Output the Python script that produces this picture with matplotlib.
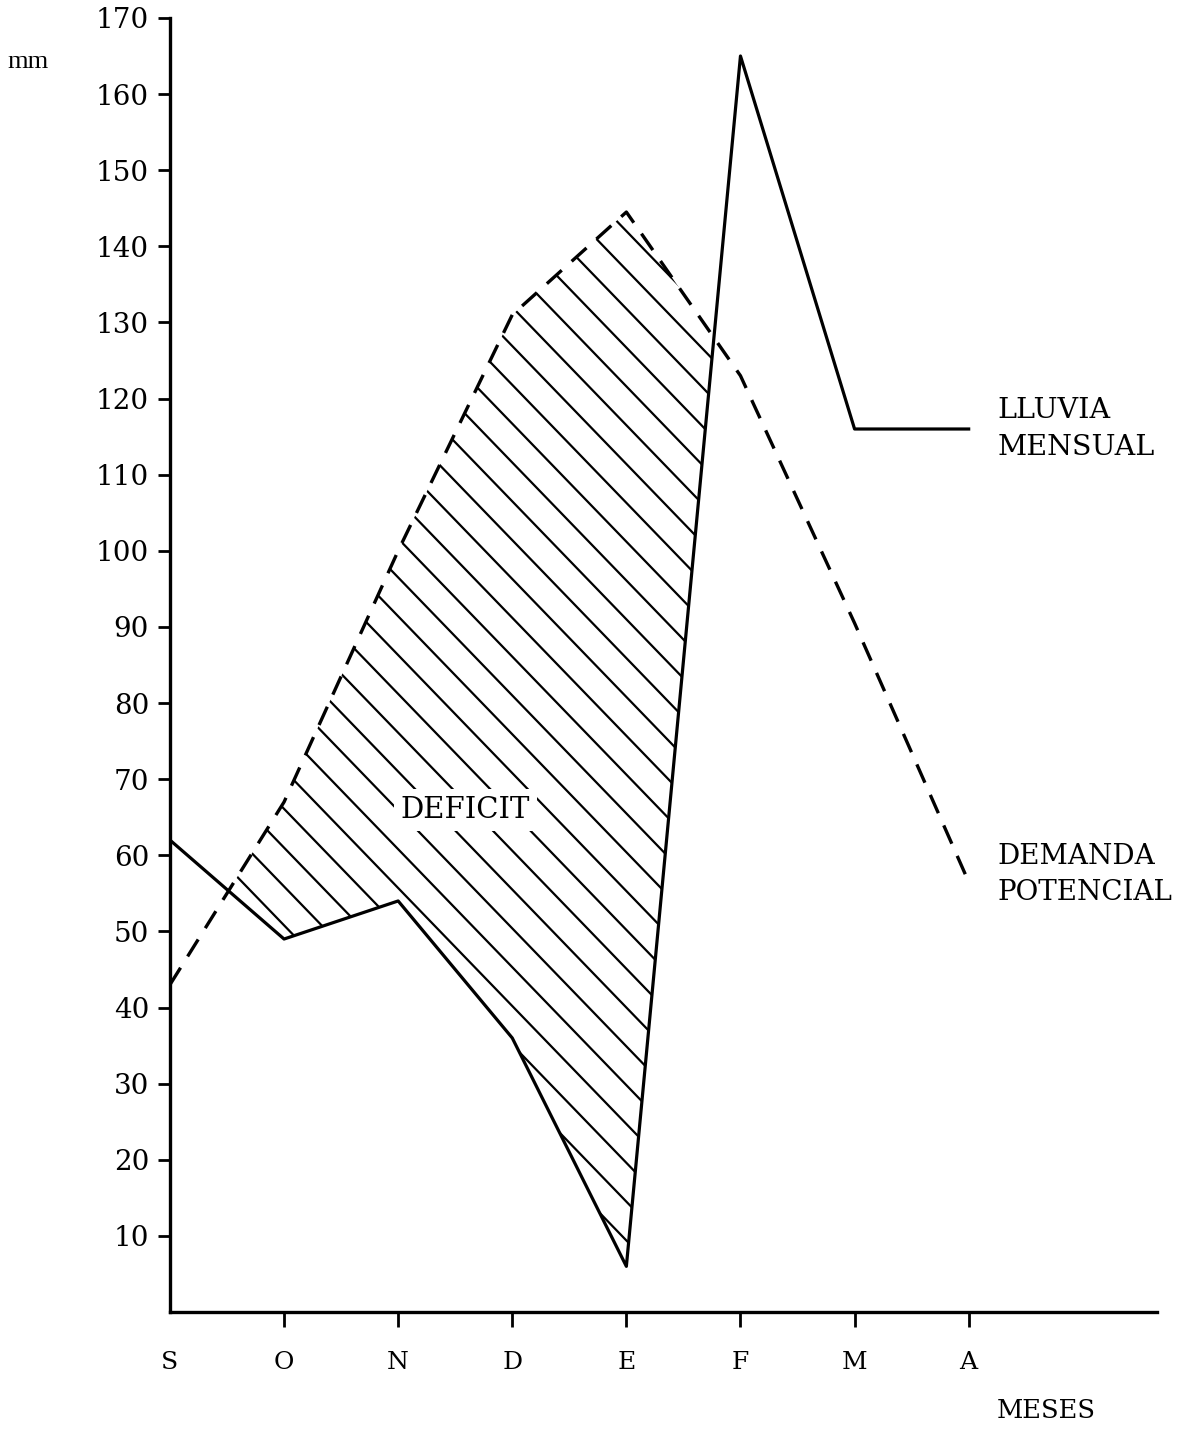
import matplotlib
matplotlib.use("Agg")
import matplotlib.pyplot as plt
import numpy as np
from matplotlib.collections import LineCollection

# months (sep -> apr) and monthly values in mm
meses = ["S", "O", "N", "D", "E", "F", "M", "A"]
lluvia = [62, 49, 54, 36, 6, 165, 116, 116]
demanda = [43, 67, 100, 131, 144.5, 123, 90.5, 56.5]
yticks = list(range(10, 171, 10))

tw = "DejaVu Serif"   # closest to the typewriter look
x = np.arange(len(meses))

fig = plt.figure(figsize=(11.86, 14.35), dpi=100)
ax = fig.add_axes([0.1433, 0.0857, 0.8322, 0.9018])
ax.set_xlim(0, 8.65)
ax.set_ylim(0, 170)

ax.plot(x, lluvia, color="black", lw=2.3)
ax.plot(x, demanda, color="black", lw=2.4, dashes=(6, 4))

# deficit area, hatched with diagonal lines clipped to it
area = ax.fill_between(x, lluvia, demanda, where=np.array(demanda) > np.array(lluvia),
                       interpolate=True, facecolor="none", edgecolor="none")
k = 15.5      # drop in mm per month (about 45 degrees on the page)
step = 5.1    # spacing of hatch lines in mm along y
segs = []
for c in np.arange(0, 260, step):
    segs.append([(0, c), (8.65, c - k * 8.65)])
hatch = LineCollection(segs, colors="black", linewidths=1.6)
ax.add_collection(hatch)
hatch.set_clip_path(area.get_paths()[0], ax.transData)

ax.text(2.59, 65.9, "DEFICIT", family=tw, fontsize=21, ha="center", va="center",
        bbox=dict(facecolor="white", edgecolor="none", pad=5))

ax.spines["top"].set_visible(False)
ax.spines["right"].set_visible(False)
ax.spines["left"].set_linewidth(2.4)
ax.spines["bottom"].set_linewidth(2.4)

ax.set_yticks(yticks)
ax.set_yticklabels([str(v) for v in yticks], family=tw, fontsize=20)
ax.tick_params(axis="y", direction="out", length=9, width=2, pad=6)

ax.set_xticks(x)
ax.set_xticklabels(meses, family=tw, fontsize=18)
ax.tick_params(axis="x", direction="out", length=11, width=2, pad=17)
ax.xaxis.get_major_ticks()[0].tick1line.set_visible(False)

ax.text(7.25, 116, "LLUVIA\nMENSUAL", family=tw, fontsize=20.5, va="center",
        linespacing=1.45)
ax.text(7.25, 57.5, "DEMANDA\nPOTENCIAL", family=tw, fontsize=20, va="center",
        linespacing=1.45)
fig.text(0.8407, 0.017, "MESES", family=tw, fontsize=18.5, va="center")
fig.text(0.006, 0.9565, "mm", family="Liberation Serif", fontsize=19, va="center")

fig.savefig("out.png", dpi=100)
